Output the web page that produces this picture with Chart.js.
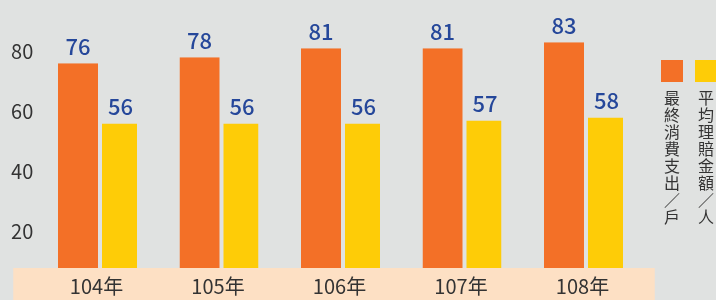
<!DOCTYPE html>
<html>
<head>
<meta charset="utf-8">
<script src="https://cdn.jsdelivr.net/npm/chart.js@4/dist/chart.umd.min.js"></script>
<style>
  html, body { margin: 0; padding: 0; background: #e0e2e1; }
  #wrap { width: 716px; height: 300px; position: relative; }
</style>
</head>
<body>
<div id="wrap"><canvas id="c"></canvas></div>
<script>
const categories = ['104年', '105年', '106年', '107年', '108年'];
const consumption = [76, 78, 81, 81, 83];
const claims = [56, 56, 56, 57, 58];
const seriesNames = ['最終消費支出／戶', '平均理賠金額／人'];
const seriesColors = ['#f37027', '#fecc07'];
const yTicks = [20, 40, 60, 80];

const FONT = '"Noto Sans CJK TC", "Noto Sans", sans-serif';

const bandPlugin = {
  id: 'band',
  beforeDraw(chart) {
    const { ctx, chartArea } = chart;
    ctx.save();
    ctx.fillStyle = '#fde0c4';
    ctx.fillRect(chartArea.left - 26, chartArea.bottom, chartArea.right - chartArea.left + 34, chart.height - chartArea.bottom);
    ctx.restore();
  }
};

const valueLabels = {
  id: 'valueLabels',
  afterDatasetsDraw(chart) {
    const { ctx } = chart;
    ctx.save();
    ctx.font = '500 22px ' + FONT;
    ctx.fillStyle = '#25479a';
    ctx.textAlign = 'center';
    ctx.textBaseline = 'middle';
    chart.data.datasets.forEach((ds, i) => {
      const meta = chart.getDatasetMeta(i);
      meta.data.forEach((bar, j) => {
        const x = bar.x + (i === 0 ? -1 : 2) * 1;
        ctx.fillText(String(ds.data[j]), x, bar.y - 17);
      });
    });
    ctx.restore();
  }
};

const sideLegend = {
  id: 'sideLegend',
  afterDraw(chart) {
    const { ctx, chartArea } = chart;
    ctx.save();
    chart.data.datasets.forEach((ds, i) => {
      const x0 = chartArea.right + 14.25 + i * 34;
      ctx.fillStyle = ds.backgroundColor;
      ctx.fillRect(x0, 60, 22, 22);
      ctx.fillStyle = '#333';
      ctx.font = '16px ' + FONT;
      ctx.textAlign = 'center';
      ctx.textBaseline = 'middle';
      Array.from(ds.label).forEach((ch, k) => {
        ctx.fillText(ch, x0 + 11, 98 + k * 17);
      });
    });
    ctx.restore();
  }
};

new Chart(document.getElementById('c'), {
  type: 'bar',
  data: {
    labels: categories,
    datasets: [
      {
        label: seriesNames[0],
        data: consumption,
        backgroundColor: seriesColors[0],
        barThickness: 42,
        borderWidth: { right: 2, left: 0, top: 0, bottom: 0 },
        borderColor: 'rgba(0,0,0,0)',
        inflateAmount: 0
      },
      {
        label: seriesNames[1],
        data: claims,
        backgroundColor: seriesColors[1],
        barThickness: 37,
        borderWidth: { left: 2, right: 0, top: 0, bottom: 0 },
        borderColor: 'rgba(0,0,0,0)',
        inflateAmount: 0
      }
    ]
  },
  options: {
    responsive: true,
    maintainAspectRatio: false,
    animation: false,
    layout: { padding: { left: 11.25, right: 69.25, top: 0, bottom: 0 } },
    plugins: {
      legend: { display: false },
      tooltip: { enabled: false }
    },
    scales: {
      x: {
        grid: { display: false, drawTicks: false },
        border: { display: false },
        ticks: {
          color: '#333',
          font: { family: FONT, size: 20 },
          padding: 6,
          labelOffset: -3.5,
          maxRotation: 0
        },
        afterFit(s) { s.height = 32; }
      },
      y: {
        min: 8,
        max: 97,
        grid: { display: false, drawTicks: false },
        border: { display: false },
        afterBuildTicks(s) { s.ticks = yTicks.map(v => ({ value: v })); },
        ticks: {
          color: '#333',
          font: { family: FONT, size: 20 },
          padding: 6
        },
        afterFit(s) { s.width = 28; s.paddingTop = 0; s.paddingBottom = 0; }
      }
    }
  },
  plugins: [bandPlugin, valueLabels, sideLegend]
});
</script>
</body>
</html>
